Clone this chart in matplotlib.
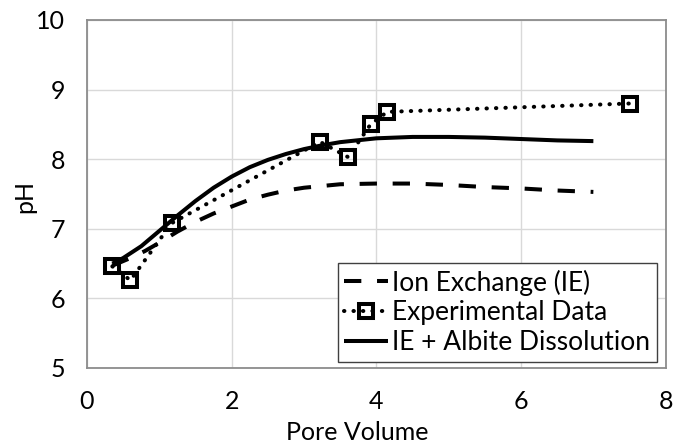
import matplotlib
matplotlib.use("Agg")
import matplotlib.pyplot as plt

plt.rcParams['font.family'] = ['Lato', 'DejaVu Sans']

# Experimental pH measurements
exp_pv = [0.35, 0.60, 1.17, 3.22, 3.61, 3.92, 4.15, 7.50]
exp_ph = [6.46, 6.26, 7.08, 8.25, 8.03, 8.50, 8.68, 8.80]

# Ion exchange model
ie_pv = [0.35, 0.6, 0.8, 1.0, 1.25, 1.5, 1.75, 2.0, 2.25, 2.5, 2.75, 3.0,
         3.5, 4.0, 4.5, 5.0, 5.5, 6.0, 6.5, 7.0]
ie_ph = [6.47, 6.58, 6.68, 6.80, 6.96, 7.10, 7.22, 7.32, 7.42, 7.49, 7.55, 7.59,
         7.64, 7.65, 7.65, 7.63, 7.60, 7.58, 7.55, 7.53]

# Ion exchange + albite dissolution model
ab_pv = [0.35, 0.5, 0.75, 1.0, 1.25, 1.5, 1.75, 2.0, 2.25, 2.5, 2.75, 3.0,
         3.25, 3.5, 4.0, 4.5, 5.0, 5.5, 6.0, 6.5, 7.0]
ab_ph = [6.50, 6.58, 6.75, 6.97, 7.19, 7.40, 7.59, 7.75, 7.885, 7.99, 8.075, 8.145,
         8.20, 8.245, 8.30, 8.32, 8.32, 8.31, 8.29, 8.27, 8.26]

x_ticks = [0, 2, 4, 6, 8]
y_ticks = [5, 6, 7, 8, 9, 10]

fig = plt.figure(figsize=(6.75, 4.45), dpi=100)
ax = fig.add_axes([87 / 675, (445 - 368) / 445, 578.7 / 675, 348 / 445])

lw = 2.9
ax.plot(ie_pv, ie_ph, color='black', lw=lw, dashes=(4.3, 3.9),
        dash_capstyle='butt', label='Ion Exchange (IE)', zorder=3)
ax.plot(exp_pv, exp_ph, color='black', lw=lw, dashes=(0.1, 2.25),
        dash_capstyle='round', marker='s', ms=10.3, mew=2.9,
        mfc='none', mec='black', label='Experimental Data', zorder=4)
ax.plot(ab_pv, ab_ph, color='black', lw=lw, solid_capstyle='butt',
        solid_joinstyle='round', label='IE + Albite Dissolution', zorder=3)

ax.set_xlim(0, 8)
ax.set_ylim(5, 10)
ax.set_xticks(x_ticks)
ax.set_yticks(y_ticks)
ax.grid(True, color='#d9d9d9', lw=1.0)
ax.set_axisbelow(True)
for s in ax.spines.values():
    s.set_color('#8c8c8c')
    s.set_linewidth(1.3)
ax.tick_params(length=0, labelsize=18, colors='black', pad=16)

fig.text(357 / 675, 1 - 432 / 445, 'Pore Volume', fontsize=18,
         ha='center', va='center')
fig.text(25 / 675, 1 - 196 / 445, 'pH', fontsize=18, rotation=90,
         ha='center', va='center')

leg = ax.legend(loc='lower right', bbox_to_anchor=(0.985, 0.018),
                borderaxespad=0, fontsize=19, handlelength=1.67,
                handletextpad=0.15, labelspacing=0.18, borderpad=0.25,
                fancybox=False, framealpha=1, edgecolor='#404040')
leg.get_frame().set_linewidth(1.0)

fig.savefig('out.png', dpi=100)
